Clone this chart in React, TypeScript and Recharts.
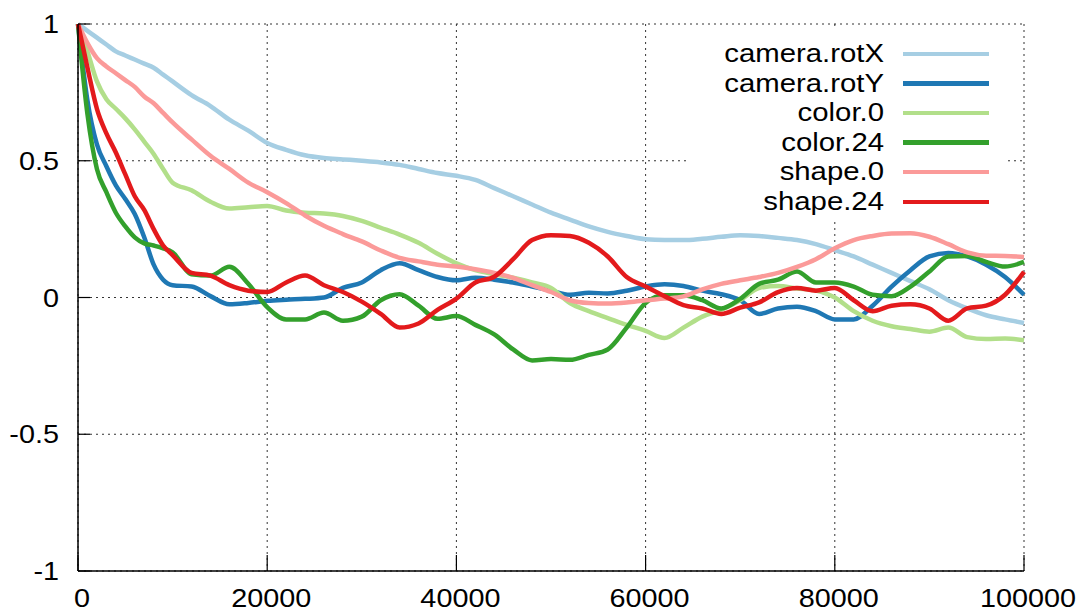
import { LineChart, Line, XAxis, YAxis, CartesianGrid, Legend } from "recharts";

// sample positions (denser at the start where the curves fall fast)
const steps = [
  0, 1000, 2000, 3000, 4000, 5000, 6000, 7000, 8000, 9000, 10000,
  12000, 14000, 16000, 18000, 20000, 22000, 24000, 26000, 28000, 30000,
  32000, 34000, 36000, 38000, 40000, 42000, 44000, 46000, 48000, 50000,
  52000, 54000, 56000, 58000, 60000, 62000, 64000, 66000, 68000, 70000,
  72000, 74000, 76000, 78000, 80000, 82000, 84000, 86000, 88000, 90000,
  92000, 94000, 96000, 98000, 100000,
];

const cameraRotX = [
  1, 0.975, 0.95, 0.925, 0.9, 0.885, 0.87, 0.855, 0.84, 0.815, 0.79,
  0.74, 0.7, 0.65, 0.61, 0.565, 0.54, 0.52, 0.51, 0.505, 0.5,
  0.494, 0.485, 0.47, 0.455, 0.445, 0.43, 0.4, 0.37, 0.34, 0.31,
  0.285, 0.26, 0.24, 0.225, 0.213, 0.21, 0.21, 0.215, 0.222, 0.228,
  0.225, 0.218, 0.21, 0.195, 0.173, 0.15, 0.12, 0.09, 0.06, 0.03,
  -0.01, -0.04, -0.065, -0.08, -0.093,
];

const cameraRotY = [
  1, 0.72, 0.56, 0.48, 0.41, 0.36, 0.305, 0.22, 0.12, 0.065, 0.045,
  0.04, 0.005, -0.025, -0.02, -0.012, -0.008, -0.005, 0.0, 0.035, 0.055,
  0.1, 0.125, 0.1, 0.075, 0.063, 0.072, 0.065, 0.055, 0.04, 0.025,
  0.01, 0.017, 0.015, 0.025, 0.04, 0.048, 0.042, 0.025, 0.012, -0.01,
  -0.06, -0.04, -0.034, -0.05, -0.08, -0.08, -0.03, 0.04, 0.1, 0.15,
  0.163, 0.15, 0.12, 0.075, 0.01,
];

const color0 = [
  1, 0.9, 0.79, 0.725, 0.69, 0.655, 0.615, 0.57, 0.525, 0.47, 0.42,
  0.392, 0.35, 0.325, 0.33, 0.335, 0.318, 0.31, 0.307, 0.298, 0.28,
  0.255, 0.23, 0.2, 0.16, 0.125, 0.1, 0.085, 0.072, 0.055, 0.035,
  -0.02, -0.05, -0.075, -0.1, -0.122, -0.148, -0.11, -0.07, -0.045, -0.01,
  0.035, 0.042, 0.033, 0.025, 0.0, -0.05, -0.085, -0.105, -0.115, -0.125,
  -0.11, -0.145, -0.152, -0.15, -0.156,
];

const color24 = [
  1, 0.67, 0.47, 0.385, 0.31, 0.26, 0.22, 0.198, 0.19, 0.18, 0.165,
  0.085, 0.08, 0.112, 0.05, -0.035, -0.08, -0.08, -0.055, -0.085, -0.07,
  -0.01, 0.012, -0.03, -0.078, -0.068, -0.1, -0.135, -0.19, -0.23, -0.225,
  -0.228, -0.21, -0.19, -0.11, -0.02, 0.008, 0.008, -0.01, -0.04, -0.005,
  0.05, 0.065, 0.095, 0.055, 0.055, 0.04, 0.01, 0.005, 0.04, 0.095,
  0.15, 0.152, 0.13, 0.113, 0.13,
];

const shape0 = [
  1, 0.93, 0.875, 0.845, 0.82, 0.795, 0.77, 0.735, 0.71, 0.675, 0.64,
  0.578, 0.518, 0.47, 0.42, 0.385, 0.345, 0.3, 0.262, 0.232, 0.205,
  0.172, 0.145, 0.132, 0.12, 0.113, 0.103, 0.09, 0.072, 0.045, 0.02,
  -0.01, -0.02, -0.022, -0.018, -0.01, -0.004, 0.004, 0.03, 0.05, 0.063,
  0.075, 0.09, 0.112, 0.14, 0.18, 0.21, 0.225, 0.234, 0.235, 0.222,
  0.195, 0.165, 0.153, 0.152, 0.148,
];

const shape24 = [
  1, 0.84, 0.69, 0.6, 0.53, 0.45, 0.37, 0.32, 0.25, 0.19, 0.155,
  0.09, 0.08, 0.045, 0.025, 0.02, 0.055, 0.08, 0.045, 0.02, -0.015,
  -0.06, -0.11, -0.095, -0.045, -0.004, 0.055, 0.076, 0.14, 0.21, 0.228,
  0.225, 0.2, 0.15, 0.075, 0.04, 0.005, -0.028, -0.04, -0.06, -0.037,
  -0.018, 0.02, 0.035, 0.025, 0.035, -0.01, -0.05, -0.03, -0.025, -0.04,
  -0.085, -0.04, -0.03, 0.01, 0.094,
];

const xTicks = [0, 20000, 40000, 60000, 80000, 100000];
const yTicks = [-1, -0.5, 0, 0.5, 1];

const series = [
  { key: "camera.rotX", values: cameraRotX, color: "#a6cee3" },
  { key: "camera.rotY", values: cameraRotY, color: "#1f78b4" },
  { key: "color.0", values: color0, color: "#b2df8a" },
  { key: "color.24", values: color24, color: "#33a02c" },
  { key: "shape.0", values: shape0, color: "#fb9a99" },
  { key: "shape.24", values: shape24, color: "#e31a1c" },
];

const data = steps.map((x, i) => {
  const row: Record<string, number> = { x };
  series.forEach((s) => {
    row[s.key] = s.values[i];
  });
  return row;
});

const FONT = "'Liberation Sans', Arial, Helvetica, sans-serif";
const FONT_SIZE = 25.5;
// the labels are set a little wider than the plain face
const STRETCH = 1.13;

function YTick({ x, y, payload }: { x: number; y: number; payload: { value: number } }) {
  return (
    <g>
      <line x1={x} x2={x + 12} y1={y} y2={y} stroke="#000" strokeWidth={1.2} />
      <text
        transform={`translate(${x - 19},${y + 9}) scale(${STRETCH},1)`}
        textAnchor="end"
        fontSize={FONT_SIZE}
        fill="#000"
      >
        {payload.value}
      </text>
    </g>
  );
}

function XTick({ x, y, payload }: { x: number; y: number; payload: { value: number } }) {
  return (
    <g>
      <line x1={x} x2={x} y1={y} y2={y - 16} stroke="#000" strokeWidth={1.2} />
      <text
        transform={`translate(${x + 4},${y + 36}) scale(${STRETCH},1)`}
        textAnchor="middle"
        fontSize={FONT_SIZE}
        fill="#000"
      >
        {payload.value}
      </text>
    </g>
  );
}

// gnuplot-style key: label right-aligned, sample line to its right, opaque box
function KeyBox() {
  return (
    <div
      style={{
        background: "#fff",
        width: 320,
        height: 189,
        paddingTop: 9,
        boxSizing: "border-box",
        fontSize: FONT_SIZE,
        fontFamily: FONT,
        color: "#000",
      }}
    >
      {series.map((s) => (
        <div key={s.key} style={{ display: "flex", alignItems: "center", height: 29.6 }}>
          <span
            style={{
              width: 198,
              textAlign: "right",
              whiteSpace: "nowrap",
              lineHeight: "29.6px",
              transform: `scaleX(${STRETCH + 0.02})`,
              transformOrigin: "right center",
            }}
          >
            {s.key}
          </span>
          <span style={{ marginLeft: 19, width: 86, height: 4.5, background: s.color }} />
        </div>
      ))}
    </div>
  );
}

export default function App() {
  return (
    <div style={{ position: "absolute", left: 0, top: 0, fontFamily: FONT }}>
      <LineChart
        width={1080}
        height={614}
        data={data}
        margin={{ top: 24, right: 56, left: 0, bottom: 0 }}
      >
        <CartesianGrid stroke="#333" strokeDasharray="2 4" strokeWidth={1} />
        <XAxis
          dataKey="x"
          type="number"
          domain={[0, 100000]}
          ticks={xTicks}
          height={43}
          tickSize={0}
          tickMargin={0}
          tick={XTick}
          axisLine={{ stroke: "#000", strokeWidth: 1.5 }}
          tickLine={false}
          interval={0}
        />
        <YAxis
          type="number"
          domain={[-1, 1]}
          ticks={yTicks}
          width={78}
          tickSize={0}
          tickMargin={0}
          tick={YTick}
          axisLine={{ stroke: "#000", strokeWidth: 1.5 }}
          tickLine={false}
          interval={0}
        />
        <Legend
          layout="horizontal"
          verticalAlign="middle"
          align="center"
          content={KeyBox}
          wrapperStyle={{ left: 686, top: 30, width: 320, height: 189 }}
        />
        {series.map((s) => (
          <Line
            key={s.key}
            dataKey={s.key}
            type="monotone"
            stroke={s.color}
            strokeWidth={4.5}
            dot={false}
            activeDot={false}
            isAnimationActive={false}
          />
        ))}
      </LineChart>
    </div>
  );
}
